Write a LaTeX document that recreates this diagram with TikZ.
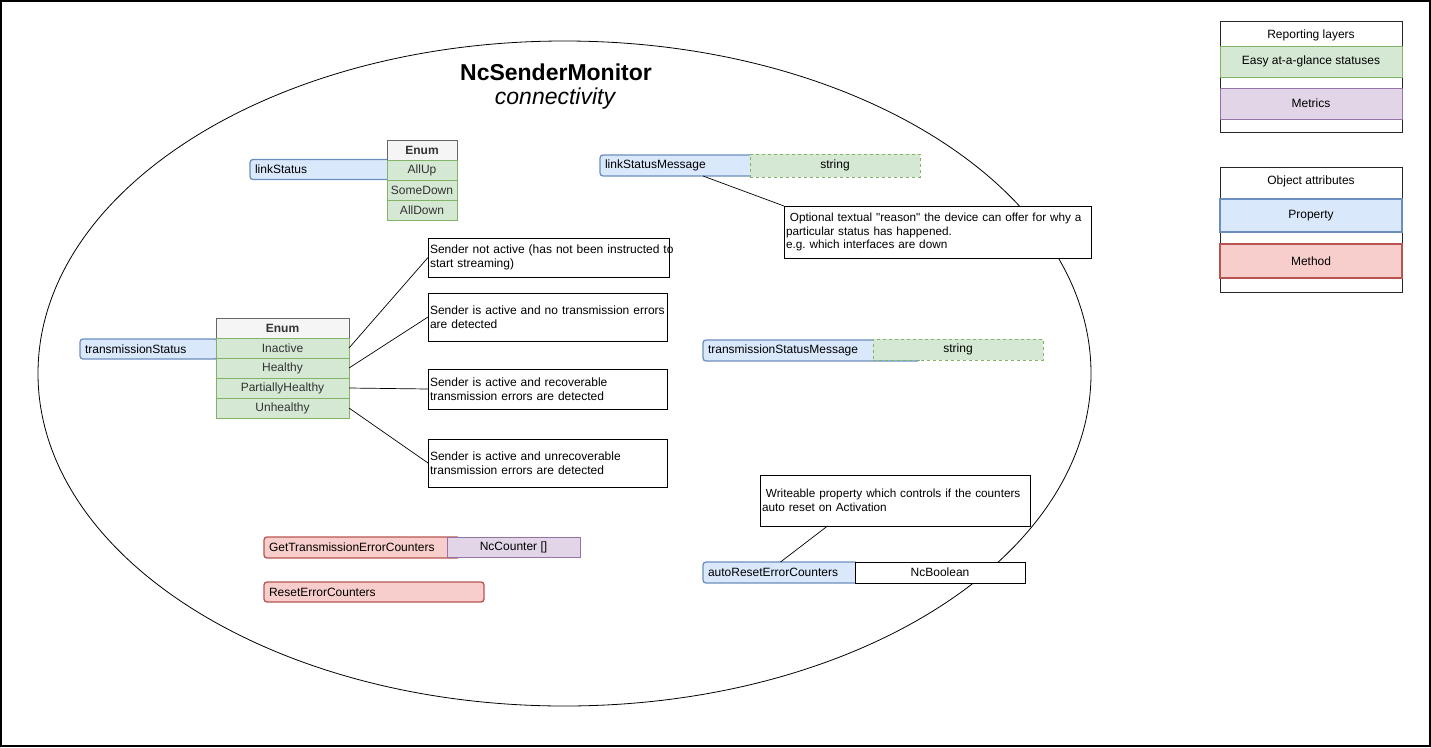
\documentclass[tikz,border=0pt]{standalone}
\usepackage{fontspec}
\setmainfont{Liberation Sans}[Ligatures=TeXOff]
\usetikzlibrary{calc,shapes.geometric}
\definecolor{propf}{HTML}{DAE8FC}
\definecolor{propd}{HTML}{6C8EBF}
\definecolor{stf}{HTML}{D5E8D4}
\definecolor{std}{HTML}{82B366}
\definecolor{metf}{HTML}{E1D5E7}
\definecolor{metd}{HTML}{9673A6}
\definecolor{methf}{HTML}{F8CECC}
\definecolor{methd}{HTML}{B85450}
\definecolor{hdrf}{HTML}{F5F5F5}
\definecolor{hdrd}{HTML}{666666}
\definecolor{txt}{HTML}{333333}
\tikzset{
  box/.style={anchor=north west, draw, align=center, inner sep=0pt, outer sep=0pt},
  prop/.style={box, draw=propd, fill=propf, rounded corners=3pt, line width=1.3pt, align=left, inner xsep=5pt},
  meth/.style={prop, draw=methd, fill=methf},
  enumh/.style={box, draw=hdrd, fill=hdrf, text=txt, font=\bfseries\fontsize{12}{14}\selectfont},
  enumr/.style={box, draw=std, fill=stf, line width=0.8pt, text=txt},
  strbox/.style={box, draw=std, fill=stf, line width=0.8pt, dash pattern=on 3pt off 3pt},
  metr/.style={box, draw=metd, fill=metf, line width=0.8pt},
  note/.style={box, draw=black, fill=white, line width=0.8pt, align=left, inner xsep=2pt, font=\fontsize{12}{14.5}\selectfont},
  legframe/.style={box, draw=black!85, fill=white, line width=1pt},
  link/.style={draw=black, line width=0.7pt},
}
\begin{document}
\frenchspacing
\begin{tikzpicture}[x=1pt,y=-1pt,font=\fontsize{12}{14}\selectfont]
\useasboundingbox (0,0) rectangle (1431,747);
\draw[line width=2pt] (1,1) rectangle (1430,746);

% scope ellipse
\node[draw, ellipse, line width=0.8pt, minimum width=1053pt, minimum height=665pt, inner sep=0pt] (scope) at (564.5,373.5) {};

% title
\node[font=\bfseries\fontsize{23}{27}\selectfont] (title) at (556,72) {NcSenderMonitor};
\node[font=\itshape\fontsize{23}{27}\selectfont] (subtitle) at (555,99) {connectivity};

% linkStatus
\node[prop, minimum width=140pt, minimum height=20pt, text width=130pt] (ls) at (250,159.5) {linkStatus};
\node[enumh, minimum width=70pt, minimum height=20pt] (lsH) at (387,140) {Enum};
\node[enumr, minimum width=70pt, minimum height=20pt] (lsA) at (387,160) {AllUp};
\node[enumr, minimum width=70pt, minimum height=20pt] (lsB) at (387,180) {SomeDown};
\node[enumr, minimum width=70pt, minimum height=20pt] (lsC) at (387,200) {AllDown};

% transmissionStatus
\node[prop, minimum width=138pt, minimum height=20pt, text width=128pt] (ts) at (80,339) {transmissionStatus};
\node[enumh, minimum width=133pt, minimum height=20pt] (tsH) at (216,318) {Enum};
\node[enumr, minimum width=133pt, minimum height=20pt] (tsA) at (216,338) {Inactive};
\node[enumr, minimum width=133pt, minimum height=20pt] (tsB) at (216,358) {Healthy};
\node[enumr, minimum width=133pt, minimum height=20pt] (tsC) at (216,378) {PartiallyHealthy};
\node[enumr, minimum width=133pt, minimum height=20pt] (tsD) at (216,398) {Unhealthy};

\node[note, minimum width=241pt, minimum height=39pt, text width=237pt] (d1) at (428,238) {\mbox{Sender not active (has not been instructed to}\\start streaming)};
\node[note, minimum width=239pt, minimum height=48pt, text width=235pt] (d2) at (428,293) {Sender is active and no transmission errors\\are detected};
\node[note, minimum width=239pt, minimum height=40pt, text width=235pt] (d3) at (428,369) {Sender is active and recoverable\\transmission errors are detected};
\node[note, minimum width=239pt, minimum height=48pt, text width=235pt] (d4) at (428,439) {Sender is active and unrecoverable\\transmission errors are detected};

\draw[link] (tsA.east) -- (d1.west);
\draw[link] (tsB.east) -- (d2.west);
\draw[link] (tsC.east) -- (d3.west);
\draw[link] (tsD.east) -- (d4.west);

% linkStatusMessage
\node[prop, minimum width=206pt, minimum height=21pt, text width=196pt] (lsm) at (600,155) {linkStatusMessage};
\node[strbox, minimum width=170pt, minimum height=23pt] (lsmT) at (750,154) {string};
\node[note, minimum width=307pt, minimum height=52pt, text width=303pt, font=\fontsize{11.75}{13.5}\selectfont] (lsmD) at (784,206) {\ Optional textual "reason" the device can offer for why a\\particular status has happened.\\e.g. which interfaces are down};
\draw[link] (lsm.south) -- (lsmD.north west);

% transmissionStatusMessage
\node[prop, minimum width=217pt, minimum height=21pt, text width=207pt] (tsm) at (703,340) {transmissionStatusMessage};
\node[strbox, minimum width=170pt, minimum height=21pt] (tsmT) at (873,339) {string};

% methods
\node[meth, minimum width=196pt, minimum height=21pt, text width=186pt] (gtec) at (264,537) {GetTransmissionErrorCounters};
\node[metr, minimum width=133pt, minimum height=20pt] (gtecT) at (447,537) {NcCounter []};
\node[meth, minimum width=220pt, minimum height=20pt, text width=210pt] (rec) at (264,582) {ResetErrorCounters};

% autoResetErrorCounters
\node[note, minimum width=270pt, minimum height=51pt, text width=266pt, font=\fontsize{11.75}{13.5}\selectfont] (arD) at (760,475) {\ Writeable property which controls if the counters\\auto reset on Activation};
\node[prop, minimum width=155pt, minimum height=21pt, text width=145pt] (ar) at (703,562) {autoResetErrorCounters};
\node[box, draw=black, fill=white, line width=0.8pt, minimum width=170pt, minimum height=21pt] (arT) at (855,562) {NcBoolean};
\draw[link] (ar.north) -- ($(arD.south west)!0.25!(arD.south east)$);

% legend: reporting layers
\node[legframe, minimum width=182pt, minimum height=111pt] (rep) at (1220,21) {};
\node (repT) at (1311,35) {Reporting layers};
\node[box, draw=std, fill=stf, line width=0.8pt, minimum width=182pt, minimum height=31pt] (repA) at (1220,46) {Easy at-a-glance statuses};
\node[metr, minimum width=182pt, minimum height=31pt] (repB) at (1220,88) {Metrics};

% legend: object attributes
\node[legframe, minimum width=182pt, minimum height=125pt] (obj) at (1220,167) {};
\node (objT) at (1311,181) {Object attributes};
\node[box, draw=propd, fill=propf, line width=1.6pt, minimum width=182pt, minimum height=33pt] (objA) at (1220,199) {Property};
\node[box, draw=methd, fill=methf, line width=1.6pt, minimum width=182pt, minimum height=34pt] (objB) at (1220,244) {Method};
\end{tikzpicture}
\end{document}
